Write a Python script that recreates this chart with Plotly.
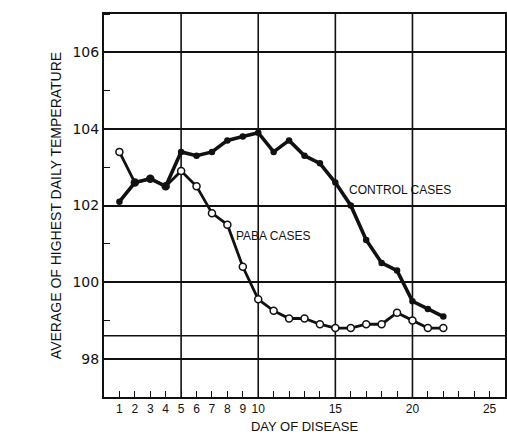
import plotly.graph_objects as go

days = list(range(1, 23))
control = [102.1, 102.6, 102.7, 102.5, 103.4, 103.3, 103.4, 103.7, 103.8, 103.9,
           103.4, 103.7, 103.3, 103.1, 102.6, 102.0, 101.1, 100.5, 100.3, 99.5, 99.3, 99.1]
paba = [103.4, 102.6, 102.7, 102.5, 102.9, 102.5, 101.8, 101.5, 100.4, 99.55,
        99.25, 99.05, 99.05, 98.9, 98.8, 98.8, 98.9, 98.9, 99.2, 99.0, 98.8, 98.8]

x_tickvals = [1, 2, 3, 4, 5, 6, 7, 8, 9, 10, 15, 20, 25]
x_ticktext = [str(v) for v in x_tickvals]
y_tickvals = [98, 100, 102, 104, 106]
y_ticktext = [str(v) for v in y_tickvals]
grid_days = [5, 10, 15, 20]
normal_temp = 98.6

FONT = "Liberation Sans"
ink = "#111111"

fig = go.Figure()
fig.add_trace(go.Scatter(
    x=days, y=paba, mode="lines+markers", name="PABA CASES",
    line=dict(color=ink, width=2.8),
    marker=dict(symbol="circle", size=7, color="white", line=dict(color=ink, width=1.5)),
    showlegend=False))
fig.add_trace(go.Scatter(
    x=days, y=control, mode="lines+markers", name="CONTROL CASES",
    line=dict(color=ink, width=3.6),
    marker=dict(symbol="circle", size=6.5, color=ink),
    showlegend=False))

for d in grid_days:
    fig.add_vline(x=d, line=dict(color=ink, width=1.6), layer="below")
fig.add_hline(y=normal_temp, line=dict(color=ink, width=1.6), layer="below")

fig.add_annotation(x=15.75, y=102.4, text="CONTROL CASES", showarrow=False,
                   xanchor="left", yanchor="middle",
                   font=dict(family=FONT, size=12, color=ink))
fig.add_annotation(x=8.45, y=101.2, text="PABA CASES", showarrow=False,
                   xanchor="left", yanchor="middle",
                   font=dict(family=FONT, size=12, color=ink))

fig.update_xaxes(
    range=[0, 26], tickvals=x_tickvals, ticktext=x_ticktext,
    ticks="inside", ticklen=6, tickwidth=1.2, tickcolor=ink,
    minor=dict(ticks="inside", dtick=1, tick0=0, ticklen=6, tickwidth=1.2, tickcolor=ink, showgrid=False),
    showgrid=False, zeroline=False,
    showline=True, linecolor=ink, linewidth=2, mirror=True,
    tickfont=dict(family=FONT, size=12, color=ink),
    title=dict(text="DAY OF DISEASE", font=dict(family=FONT, size=13, color=ink), standoff=6),
    automargin=False)
fig.update_yaxes(
    range=[97, 107], tickvals=y_tickvals, ticktext=y_ticktext,
    ticks="", showgrid=True, gridcolor=ink, gridwidth=1.6,
    minor=dict(ticks="inside", dtick=1, tick0=97, ticklen=6, tickwidth=1.2, tickcolor=ink, showgrid=False),
    zeroline=False,
    showline=True, linecolor=ink, linewidth=2, mirror=True,
    tickfont=dict(family="DejaVu Sans", size=14, color=ink),
    title=dict(text="AVERAGE OF HIGHEST DAILY TEMPERATURE",
               font=dict(family=FONT, size=14, color=ink), standoff=8),
    automargin=False)

fig.update_layout(
    width=507, height=434,
    margin=dict(l=104, r=2, t=14, b=37),
    plot_bgcolor="white", paper_bgcolor="white",
    showlegend=False)

fig.write_html("out.html")
